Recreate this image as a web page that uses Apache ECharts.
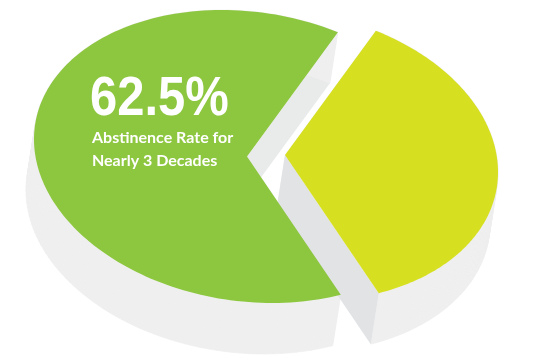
<!DOCTYPE html>
<html>
<head>
<meta charset="utf-8">
<style>html,body{margin:0;padding:0;background:#fff}#c{width:539px;height:363px}</style>
<script src="https://cdn.jsdelivr.net/npm/echarts@6/dist/echarts.min.js"></script>
</head>
<body>
<div id="c"></div>
<script>
var categories = ['Abstinence', 'Other'];
var values = [62.5, 37.5];
var sliceColors = ['#8dc63f', '#d6df20'];
var bigLabel = '62.5%';
var subLabels = ['Abstinence Rate for', 'Nearly 3 Decades'];

var apexes = [[247, 156.5], [285, 155]];
var depth = [-8, 51];
var wallColor = '#efefef';
var upperFaceColors = ['#e9eaea', '#efefef'];
var lowerFaceColors = ['#efefef', '#e1e3e5'];
var Sxx = 213 * 213, Syy = 146.5 * 146.5, Sxy = 3650;
var det = Sxx * Syy - Sxy * Sxy;
var U = [241.7, 18.3], V = [1.6, 142.3];

var total = values.reduce(function (a, b) { return a + b; }, 0);
var yellowSweep = values[1] / total * 2 * Math.PI;
var ranges = [
  [yellowSweep / 2, 2 * Math.PI - yellowSweep / 2],
  [-yellowSweep / 2, yellowSweep / 2]
];

function rim(t) {
  var dx = U[0] * Math.cos(t) + V[0] * Math.sin(t);
  var dy = U[1] * Math.cos(t) + V[1] * Math.sin(t);
  var q = (Syy * dx * dx - 2 * Sxy * dx * dy + Sxx * dy * dy) / det;
  var s = 1 / Math.sqrt(q);
  return [dx * s, dy * s];
}
function at(apex, p, d) {
  return [apex[0] + p[0] + (d ? depth[0] : 0), apex[1] + p[1] + (d ? depth[1] : 0)];
}
function poly(points, color, stroke) {
  return {
    type: 'polygon',
    shape: { points: points },
    style: { fill: color, stroke: stroke ? color : null, lineWidth: stroke ? 0.6 : 0 }
  };
}
function renderWalls(params) {
  var i = params.dataIndex, apex = apexes[i], r = ranges[i], kids = [];
  var n = 120;
  var e0 = rim(r[0]), e1 = rim(r[1]);
  var upper = e0[1] < e1[1] ? e0 : e1, lower = e0[1] < e1[1] ? e1 : e0;
  kids.push(poly([at(apex, [0, 0]), at(apex, upper), at(apex, upper, 1), at(apex, [0, 0], 1)], upperFaceColors[i]));
  for (var k = 0; k < n; k++) {
    var p = rim(r[0] + (r[1] - r[0]) * k / n), q = rim(r[0] + (r[1] - r[0]) * (k + 1) / n);
    kids.push(poly([at(apex, p), at(apex, q), at(apex, q, 1), at(apex, p, 1)], wallColor, true));
  }
  kids.push(poly([at(apex, [0, 0]), at(apex, lower), at(apex, lower, 1), at(apex, [0, 0], 1)], lowerFaceColors[i]));
  return { type: 'group', children: kids };
}
function renderTop(params) {
  var i = params.dataIndex, apex = apexes[i], r = ranges[i], pts = [at(apex, [0, 0])];
  var n = 160;
  for (var k = 0; k <= n; k++) pts.push(at(apex, rim(r[0] + (r[1] - r[0]) * k / n)));
  return poly(pts, sliceColors[i]);
}
var data = categories.map(function (c, i) { return { name: c, value: values[i] }; });
var chart = echarts.init(document.getElementById('c'), null, { renderer: 'canvas' });
chart.setOption({
  animation: false,
  backgroundColor: '#ffffff',
  series: [
    { type: 'custom', coordinateSystem: 'none', data: data, renderItem: renderWalls, z: 1, silent: true },
    { type: 'custom', coordinateSystem: 'none', data: data, renderItem: renderTop, z: 2, silent: true }
  ],
  graphic: [
    { type: 'text', z: 10, x: 90, y: 72, scaleX: 0.89, scaleY: 1,
      style: { text: bigLabel, fill: '#fff', font: 'bold 55px "Liberation Sans"' } },
    { type: 'text', z: 10, x: 92, y: 130,
      style: { text: subLabels[0], fill: '#fff', font: 'bold 16px Lato' } },
    { type: 'text', z: 10, x: 92, y: 153,
      style: { text: subLabels[1], fill: '#fff', font: 'bold 16px Lato' } }
  ]
});
</script>
</body>
</html>
